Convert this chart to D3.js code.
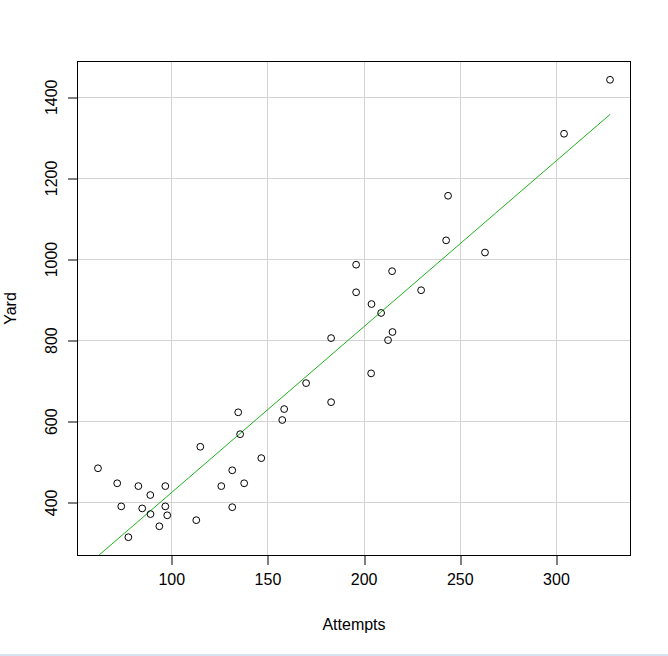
<!DOCTYPE html>
<html>
<head>
<meta charset="utf-8">
<script src="https://cdn.jsdelivr.net/npm/d3@7"></script>
<style>
  html, body { margin: 0; padding: 0; background: #ffffff; }
  svg { display: block; }
  text { font-family: "Liberation Sans", Arial, sans-serif; fill: #000; }
</style>
</head>
<body>
<svg id="chart" width="668" height="656"></svg>
<script>
// ---- data ----
const attempts = [61.9, 71.9, 82.9, 96.9, 89.1, 74.0, 84.9, 96.9, 89.2, 97.9,
                  93.8, 77.7, 115.1, 131.7, 126.0, 137.9, 146.8, 131.7, 113.0, 134.8,
                  135.8, 183.1, 215.0, 212.7, 203.9, 170.1, 183.1, 158.7, 157.7, 242.9,
                  196.1, 214.8, 196.1, 229.9, 204.1, 209.1, 243.9, 263.1, 328.1, 304.2];
const yards    = [484, 447, 440, 440, 418, 390, 385, 390, 371, 368,
                  341, 314, 537, 479, 440, 447, 509, 388, 356, 622,
                  568, 805, 820, 800, 718, 694, 647, 630, 603, 1046,
                  986, 970, 918, 923, 889, 867, 1156, 1016, 1442, 1309];
const xTicks = [100, 150, 200, 250, 300];
const yTicks = [400, 600, 800, 1000, 1200, 1400];
const xTitle = "Attempts";
const yTitle = "Yard";

(function () {
// ---- layout ----
const pL = 77.5, pR = 630.5, pT = 61.5, pB = 555.5;
const svg = d3.select("#chart");

// R-style 4% extension of data range
function rDomain(v) {
  const [a, b] = d3.extent(v);
  const pad = (b - a) * 0.04;
  return [a - pad, b + pad];
}
const x = d3.scaleLinear().domain(rDomain(attempts)).range([pL, pR]);
const y = d3.scaleLinear().domain(rDomain(yards)).range([pB, pT]);

svg.append("defs").append("clipPath").attr("id", "plotclip")
  .append("rect").attr("x", pL).attr("y", pT)
  .attr("width", pR - pL).attr("height", pB - pT);

// grid
const grid = svg.append("g").attr("stroke", "#d3d3d3").attr("stroke-width", 1);
grid.selectAll("line.gx").data(xTicks).join("line").attr("class", "gx")
  .attr("x1", d => Math.round(x(d)) + 0.5).attr("x2", d => Math.round(x(d)) + 0.5)
  .attr("y1", pT).attr("y2", pB);
grid.selectAll("line.gy").data(yTicks).join("line").attr("class", "gy")
  .attr("y1", d => Math.round(y(d)) + 0.5).attr("y2", d => Math.round(y(d)) + 0.5)
  .attr("x1", pL).attr("x2", pR);

// regression line (least squares from the data), from min to max x
const n = attempts.length;
const mx = d3.mean(attempts), my = d3.mean(yards);
let sxy = 0, sxx = 0;
for (let i = 0; i < n; i++) {
  sxy += (attempts[i] - mx) * (yards[i] - my);
  sxx += (attempts[i] - mx) ** 2;
}
const slope = sxy / sxx, intercept = my - slope * mx;
const [xmin, xmax] = d3.extent(attempts);
svg.append("line")
  .attr("clip-path", "url(#plotclip)")
  .attr("x1", x(xmin)).attr("y1", y(intercept + slope * xmin))
  .attr("x2", x(xmax)).attr("y2", y(intercept + slope * xmax))
  .attr("stroke", "#1db31d").attr("stroke-width", 1);

// points
svg.append("g").selectAll("circle").data(attempts).join("circle")
  .attr("cx", (d) => x(d))
  .attr("cy", (d, i) => y(yards[i]))
  .attr("r", 3.4)
  .attr("fill", "none").attr("stroke", "#000").attr("stroke-width", 1);

// box
svg.append("rect").attr("x", pL).attr("y", pT)
  .attr("width", pR - pL).attr("height", pB - pT)
  .attr("fill", "none").attr("stroke", "#000").attr("stroke-width", 1);

// axes
const xAxis = d3.axisBottom(x).tickValues(xTicks).tickSize(9.5).tickPadding(9).tickFormat(d3.format("d"));
const gx = svg.append("g").attr("transform", `translate(0,${pB})`).call(xAxis);
gx.select(".domain").remove();
gx.selectAll(".tick line").attr("stroke", "#000").attr("transform", d => `translate(${Math.round(x(d)) + 0.5 - x(d)},0)`);
gx.selectAll(".tick text").attr("font-size", 16).attr("font-family", "Liberation Sans, Arial, sans-serif");

const yAxis = d3.axisLeft(y).tickValues(yTicks).tickSize(9.5).tickFormat(d3.format("d"));
const gy = svg.append("g").attr("transform", `translate(${pL},0)`).call(yAxis);
gy.select(".domain").remove();
gy.selectAll(".tick line").attr("stroke", "#000").attr("transform", d => `translate(0,${Math.round(y(d)) + 0.5 - y(d)})`);
gy.selectAll(".tick text")
  .attr("font-size", 16).attr("font-family", "Liberation Sans, Arial, sans-serif")
  .attr("x", null).attr("dy", null)
  .attr("text-anchor", "middle")
  .attr("transform", `translate(${57 - pL},0) rotate(-90)`);

// titles
svg.append("text").attr("x", (pL + pR) / 2).attr("y", 630)
  .attr("text-anchor", "middle").attr("font-size", 16).text(xTitle);
svg.append("text").attr("transform", `translate(16,${(pT + pB) / 2}) rotate(-90)`)
  .attr("text-anchor", "middle").attr("font-size", 16).text(yTitle);

// light bottom edge as in the reference screenshot
svg.append("rect").attr("x", 0).attr("y", 654).attr("width", 668).attr("height", 2)
  .attr("fill", "#d5e3f1");
})();
</script>
</body>
</html>
